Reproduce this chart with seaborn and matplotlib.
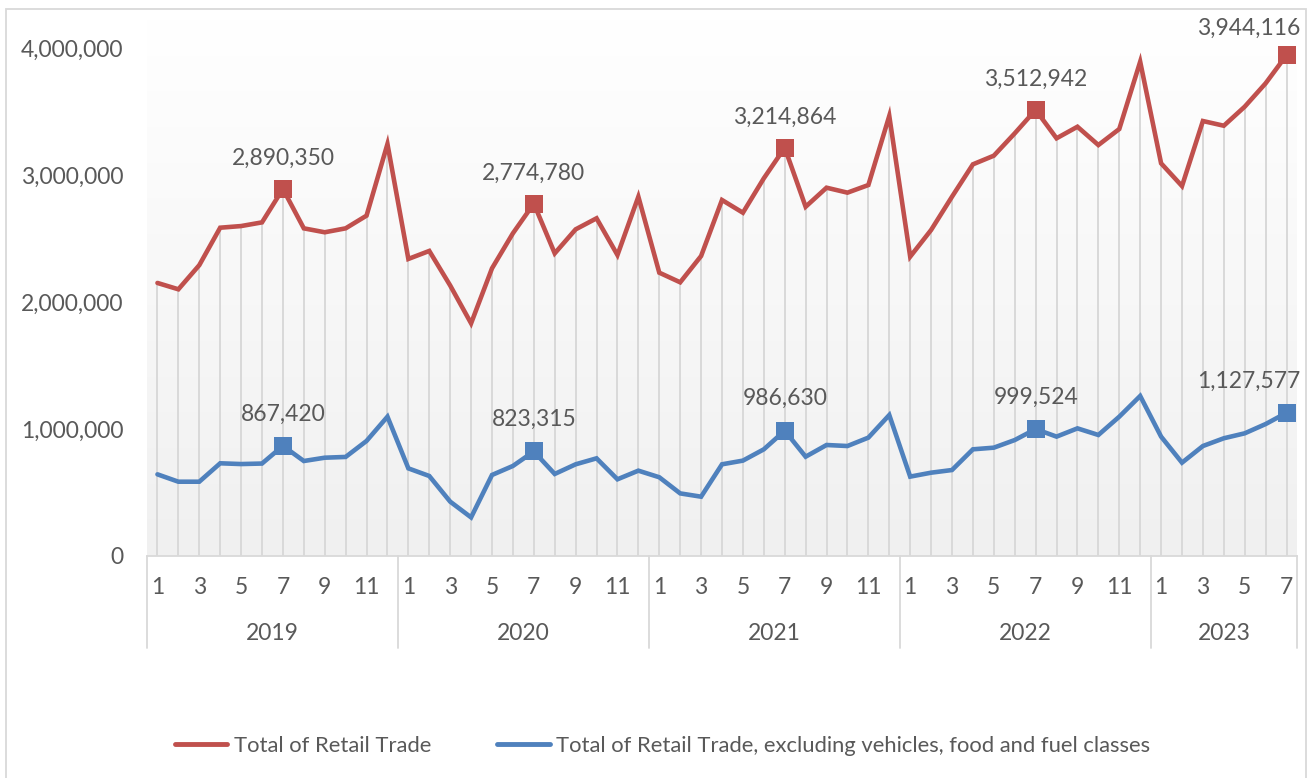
import numpy as np
import pandas as pd
import matplotlib
matplotlib.use("Agg")
import matplotlib.pyplot as plt
import matplotlib.transforms as mtransforms
from matplotlib.colors import LinearSegmentedColormap
from matplotlib.lines import Line2D
from matplotlib.patches import Rectangle
import seaborn as sns

# ---------------- data ----------------
years = [2019, 2020, 2021, 2022, 2023]
months_per_year = [12, 12, 12, 12, 7]

total_retail = [
    2150000, 2100000, 2290000, 2585000, 2598000, 2627000, 2890350, 2580000, 2549000, 2580000, 2680000, 3244000,
    2339000, 2402000, 2130000, 1832000, 2265000, 2541000, 2774780, 2383000, 2572000, 2659000, 2370000, 2829000,
    2231000, 2155000, 2362000, 2803000, 2703000, 2974000, 3214864, 2750000, 2900000, 2861000, 2921000, 3465000,
    2357000, 2567000, 2829000, 3084000, 3152000, 3328000, 3512942, 3289000, 3380000, 3236000, 3362000, 3892000,
    3092000, 2913000, 3425000, 3388000, 3538000, 3722000, 3944116,
]
retail_excl = [
    643000, 585000, 585000, 730000, 724000, 728000, 867420, 748000, 774000, 780000, 906000, 1097000,
    690000, 630000, 428000, 304000, 638000, 709000, 823315, 646000, 722000, 769000, 604000, 672000,
    620000, 493000, 467000, 722000, 751000, 840000, 986630, 782000, 874000, 866000, 932000, 1110000,
    625000, 656000, 677000, 840000, 853000, 913000, 999524, 940000, 1005000, 953000, 1097000, 1260000,
    940000, 735000, 866000, 927000, 966000, 1039000, 1127577,
]
series_names = ["Total of Retail Trade",
                "Total of Retail Trade, excluding vehicles, food and fuel classes"]
highlight_month = 7
y_ticks = [0, 1000000, 2000000, 3000000, 4000000]

# ---------------- table ----------------
rows = []
for yr, n in zip(years, months_per_year):
    for m in range(1, n + 1):
        rows.append((yr, m))
df = pd.DataFrame(rows, columns=["year", "month"])
df["idx"] = np.arange(len(df))
df["total"] = total_retail
df["excl"] = retail_excl

RED = "#C0504D"
BLUE = "#4F81BD"
TXT = "#595959"
GRID = "#D9D9D9"
FS = 16.5

sns.set_theme(style="white")
plt.rcParams["font.family"] = ["Lato", "DejaVu Sans"]

W, H = 1312, 778
fig = plt.figure(figsize=(W / 100, H / 100), dpi=100)
ax_left, ax_right, ax_bottom_px, ax_top_px = 147, 1297, 556, 20
ax = fig.add_axes([ax_left / W, 1 - ax_bottom_px / H,
                   (ax_right - ax_left) / W, (ax_bottom_px - ax_top_px) / H])

ymax = (ax_bottom_px - ax_top_px) / 127.0 * 1e6
xmin, xmax = -0.5, len(df) - 0.5

# gradient plot area background (white at top -> light grey at bottom)
cmap = LinearSegmentedColormap.from_list("bg", ["#FFFFFF", "#F0F0F0"])
grad = np.linspace(0, 1, 256).reshape(-1, 1)
ax.imshow(grad, cmap=cmap, aspect="auto", extent=[xmin, xmax, 0, ymax],
          zorder=0, origin="upper")

# drop lines
ax.vlines(df["idx"], 0, df["total"], color=GRID, linewidth=1.4, zorder=1)

# lines
sns.lineplot(data=df, x="idx", y="total", color=RED, linewidth=3.3, ax=ax,
             zorder=3, solid_joinstyle="miter")
sns.lineplot(data=df, x="idx", y="excl", color=BLUE, linewidth=3.3, ax=ax,
             zorder=3, solid_joinstyle="miter")

hl = df[df["month"] == highlight_month]
sns.scatterplot(x=hl["idx"], y=hl["total"], marker="s", s=150, color=RED,
                edgecolor=RED, linewidth=0, ax=ax, zorder=4)
sns.scatterplot(x=hl["idx"], y=hl["excl"], marker="s", s=150, color=BLUE,
                edgecolor=BLUE, linewidth=0, ax=ax, zorder=4)

last_idx = df["idx"].iloc[-1]
for _, r in hl.iterrows():
    for col, dy in (("total", 22), ("excl", 23)):
        dx = 0
        ddy = dy
        if r["idx"] == last_idx:
            dx = -27
            ddy = 19 if col == "total" else 23
        ax.annotate(f"{int(r[col]):,}", (r["idx"], r[col]), xytext=(dx, ddy),
                    textcoords="offset points", ha="center", va="center",
                    fontsize=FS, color=TXT, zorder=5)

ax.set_xlim(xmin, xmax)
ax.set_ylim(0, ymax)
ax.set_yticks(y_ticks)
ax.set_yticklabels([f"{v:,}" for v in y_ticks], fontsize=FS, color=TXT)
ax.tick_params(axis="y", length=0, pad=17)
ax.set_xticks([])
ax.set_xlabel("")
ax.set_ylabel("")
for s in ["top", "right", "left"]:
    ax.spines[s].set_visible(False)
ax.spines["bottom"].set_color(GRID)
ax.spines["bottom"].set_linewidth(1.3)

# multi-level category axis
xt = ax.get_xaxis_transform()
t_month = mtransforms.offset_copy(xt, fig=fig, y=-31, units="dots")
t_year = mtransforms.offset_copy(xt, fig=fig, y=-78, units="dots")
odd = df[df["month"] % 2 == 1]
for _, r in odd.iterrows():
    ax.text(r["idx"], 0, str(r["month"]), transform=t_month, ha="center",
            va="center", fontsize=FS, color=TXT, clip_on=False)
start = 0
bounds = [xmin]
for yr, n in zip(years, months_per_year):
    center = start + (n - 1) / 2
    ax.text(center, 0, str(yr), transform=t_year, ha="center", va="center",
            fontsize=FS, color=TXT, clip_on=False)
    start += n
    bounds.append(start - 0.5)
for b in bounds:
    p0 = ax.transData.transform((b, 0))
    line = Line2D([p0[0], p0[0]], [p0[1], p0[1] - 92], transform=None,
                  color=GRID, linewidth=1.3, clip_on=False)
    fig.add_artist(line)

# legend
handles = [Line2D([0], [0], color=RED, linewidth=3.5),
           Line2D([0], [0], color=BLUE, linewidth=3.5)]
fig.legend(handles, series_names, loc="center", bbox_to_anchor=(0.505, 1 - 746 / H),
           ncol=2, frameon=False, fontsize=15.8, handlelength=2.4,
           handletextpad=0.3, columnspacing=3.0, labelcolor=TXT)

# outer chart border
fig.add_artist(Rectangle((6 / W, -0.01), (1306 - 6) / W, 1.01 - 9 / H,
                         transform=fig.transFigure, fill=False,
                         edgecolor="#D9D9D9", linewidth=1.3))

fig.savefig("out.png", dpi=100)
